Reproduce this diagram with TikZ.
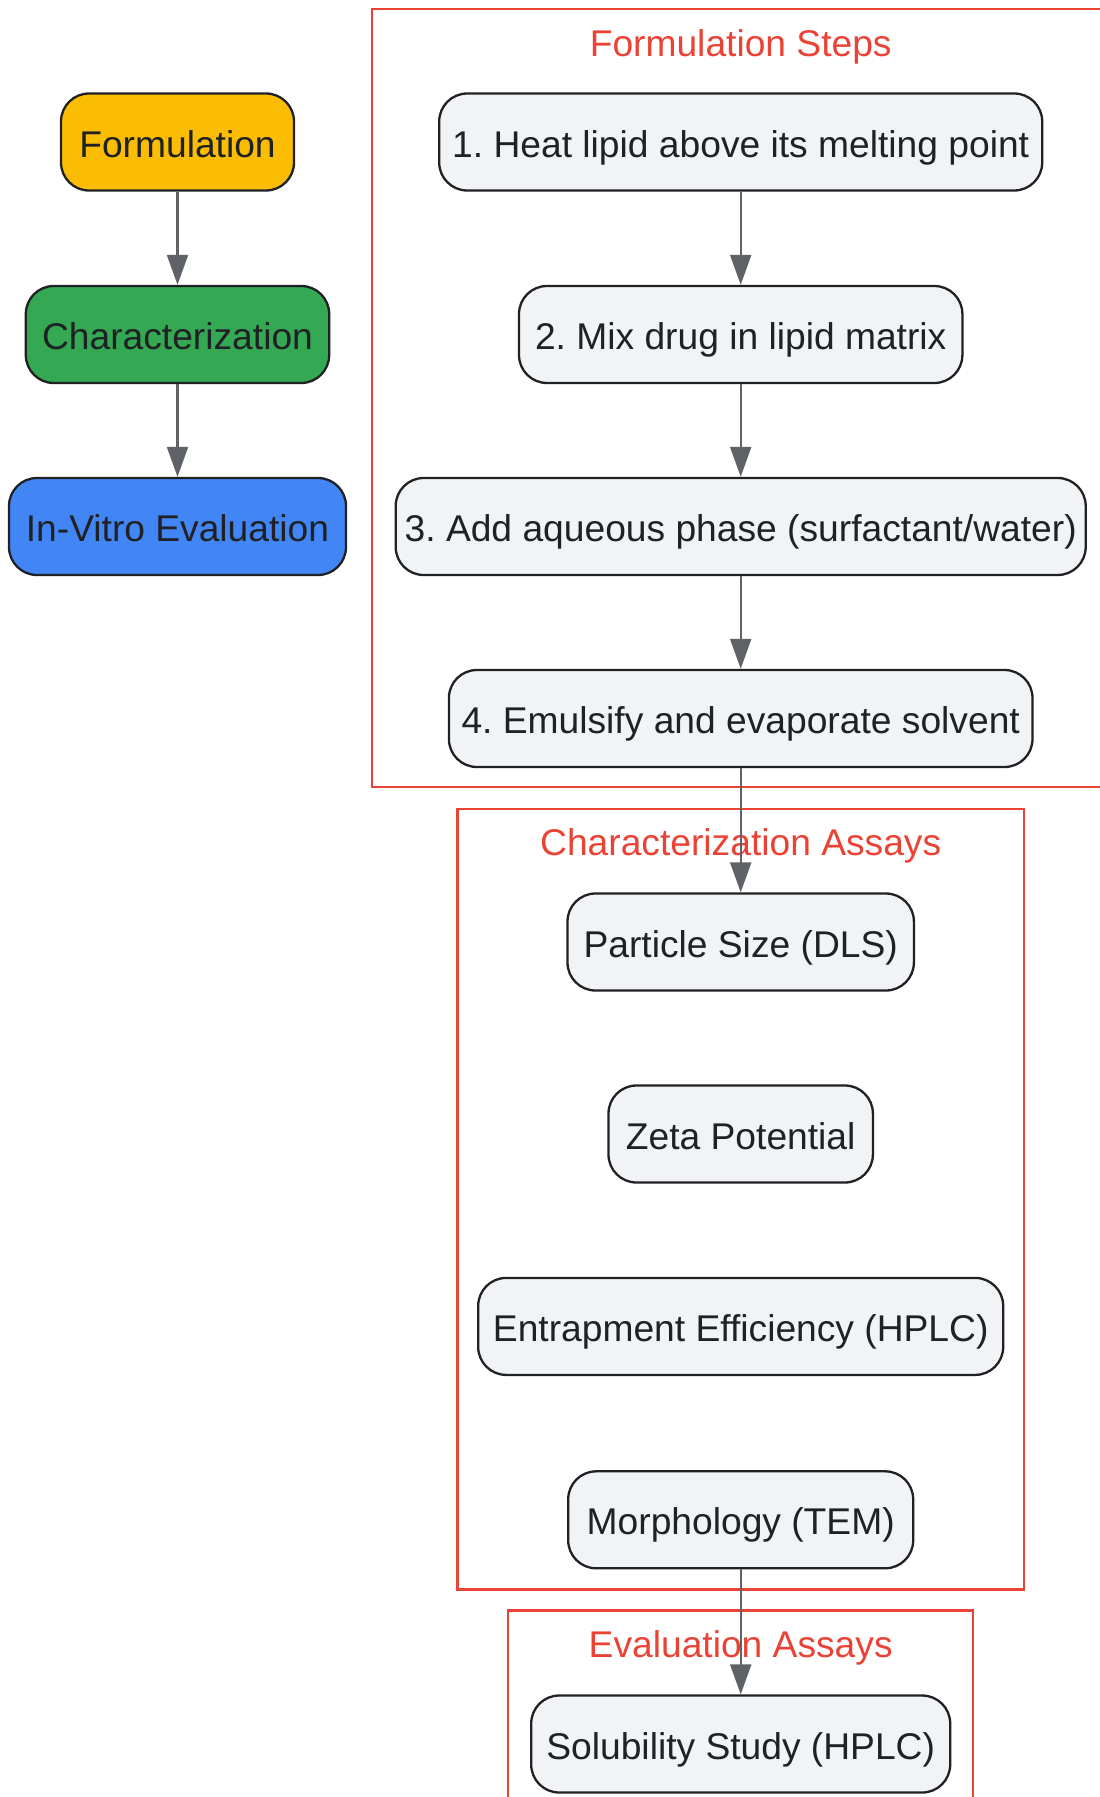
\documentclass[tikz,border=0pt]{standalone}
\usepackage{fontspec}
\setmainfont{Liberation Sans}
\usetikzlibrary{arrows.meta}
\frenchspacing

\definecolor{ink}{HTML}{202124}
\definecolor{paper}{HTML}{F1F3F4}
\definecolor{edgegrey}{HTML}{5F6368}
\definecolor{clusterred}{HTML}{EA4335}
\definecolor{gyellow}{HTML}{FBBC04}
\definecolor{ggreen}{HTML}{34A853}
\definecolor{gblue}{HTML}{4285F4}

\begin{document}
\begin{tikzpicture}[
    x=0.5pt, y=-0.5pt,
    box/.style={rectangle, draw=ink, line width=1.15pt, rounded corners=14pt, fill=paper,
        minimum height=48.5pt, inner sep=0pt, text=ink, text height=17pt, text depth=1.9pt,
        font=\fontsize{18.6pt}{22pt}\selectfont},
    phase/.style={box, fill=#1},
    cluster/.style={draw=clusterred, line width=1.15pt},
    title/.style={text=clusterred, inner sep=0pt, text height=17pt, text depth=1.9pt,
        font=\fontsize{18.6pt}{22pt}\selectfont},
    arrow/.style={-{Triangle[length=15pt, width=10.5pt]}, draw=edgegrey, line width=1.1pt}
]
\useasboundingbox (0,0) rectangle (1099,1797);

% Cluster frames
\draw[cluster] (372,9) rectangle (1110,787);
\draw[cluster] (457.6,809) rectangle (1024,1589.6);
\draw[cluster] (508,1610.6) rectangle (973,1815);

\node[title] (fstitle) at (740.7,41.4) {Formulation Steps};
\node[title] (catitle) at (740.7,840.6) {Characterization Assays};
\node[title] (eatitle) at (740.7,1642.5) {Evaluation Assays};

% Main phases
\node[phase=gyellow, minimum width=116.5pt] (form) at (177.5,142) {Formulation};
\node[phase=ggreen, minimum width=151.7pt] (charac) at (177.5,334.5) {Characterization};
\node[phase=gblue, minimum width=168.5pt] (vitro) at (177.5,526.5) {In-Vitro Evaluation};

% Formulation steps
\node[box, minimum width=301.5pt] (step1) at (740.7,142) {1. Heat lipid above its melting point};
\node[box, minimum width=221.7pt] (step2) at (740.7,334.5) {2. Mix drug in lipid matrix};
\node[box, minimum width=345pt] (step3) at (740.7,526.5) {3. Add aqueous phase (surfactant/water)};
\node[box, minimum width=291.8pt] (step4) at (740.7,718.5) {4. Emulsify and evaporate solvent};

% Characterization assays
\node[box, minimum width=173.2pt] (size) at (740.7,942) {Particle Size (DLS)};
\node[box, minimum width=132.2pt] (zeta) at (740.7,1134) {Zeta Potential};
\node[box, minimum width=262.5pt] (ee) at (740.7,1326.4) {Entrapment Efficiency (HPLC)};
\node[box, minimum width=172.5pt] (morph) at (740.7,1519.8) {Morphology (TEM)};

% Evaluation assays
\node[box, minimum width=209.5pt] (sol) at (740.7,1744) {Solubility Study (HPLC)};

% Connectors
\foreach \a/\b in {form/charac, charac/vitro, step1/step2, step2/step3, step3/step4, step4/size, morph/sol} {
    \draw[arrow] (\a) -- (\b);
}

\end{tikzpicture}
\end{document}
